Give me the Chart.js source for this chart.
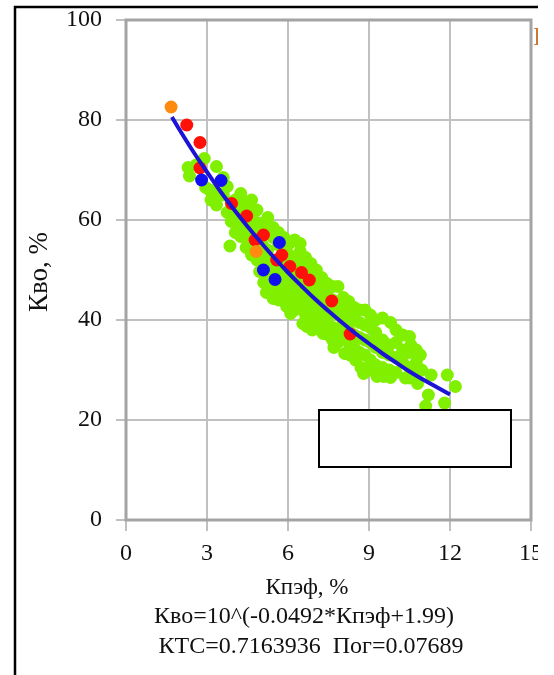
<!DOCTYPE html>
<html><head><meta charset="utf-8">
<script src="https://cdn.jsdelivr.net/npm/chart.js@4/dist/chart.umd.min.js"></script>
<style>
html,body{margin:0;padding:0;background:#fff;}
#wrap{position:absolute;left:0;top:0;width:538px;height:675px;overflow:hidden;background:#fff;}
</style>
</head><body>
<div id="wrap"><canvas id="c" width="554" height="675"></canvas></div>
<script>
const xTicks = [0, 3, 6, 9, 12, 15];
const yTicks = [0, 20, 40, 60, 80, 100];
const xTitle = "Кпэф, %";
const yTitle = "Кво, %";
const eqLine1 = "Кво=10^(-0.0492*Кпэф+1.99)";
const eqLine2 = "КТС=0.7163936  Пог=0.07689";

const greenX = [2.3,2.35,2.6,2.9,2.95,3.1,3.15,3.35,3.35,3.35,3.6,3.6,3.75,3.75,3.9,3.9,3.85,4.05,4.05,4.05,4.25,4.25,4.25,4.25,4.45,4.45,4.45,4.45,4.65,4.65,4.65,4.65,4.65,4.85,4.85,4.85,4.85,4.95,5.05,5.05,5.05,5.05,5.1,5.25,5.25,5.25,5.25,5.25,5.2,5.45,5.45,5.45,5.45,5.45,5.45,5.65,5.65,5.65,5.65,5.65,5.65,5.85,5.85,5.85,5.85,5.85,5.95,6.05,6.05,6.05,6.05,6.05,6.05,6.1,6.25,6.25,6.25,6.25,6.25,6.25,6.45,6.45,6.45,6.45,6.45,6.45,6.55,6.65,6.65,6.65,6.65,6.65,6.7,6.85,6.85,6.85,6.85,6.85,6.9,7.05,7.05,7.05,7.05,7.05,7.2,7.25,7.25,7.25,7.25,7.3,7.45,7.45,7.45,7.45,7.5,7.65,7.65,7.65,7.65,7.65,7.7,7.85,7.85,7.85,7.85,7.85,8.05,8.05,8.05,8.05,8.1,8.25,8.25,8.25,8.25,8.3,8.45,8.45,8.45,8.45,8.5,8.65,8.65,8.65,8.65,8.7,8.85,8.85,8.85,8.85,8.8,9.05,9.05,9.05,9.05,9.05,9.25,9.25,9.25,9.25,9.3,9.5,9.5,9.5,9.5,9.55,9.8,9.75,9.75,9.75,9.8,10.0,10.0,10.0,10.0,10.25,10.25,10.25,10.35,10.5,10.55,10.5,10.5,10.5,10.75,10.75,10.75,10.8,10.9,10.95,11.1,11.2,11.3,11.8,11.9,12.2];
const greenY = [70.5,68.8,71,72.3,66.5,66,64,70.7,63,65.5,68.5,65,66.7,61.5,59.7,63.5,54.8,61,57.5,64,65.3,62.5,59,56.7,63.5,60.5,58,54.5,64,61.7,59,56,53,62,59.5,57,52,49.7,59.3,57,55,52.5,47.5,60.5,58,54,51,48,45.5,58.5,56.5,52,49.5,47,44.3,57.5,55,51.5,49,46,44,56.5,54,50,47.5,45,42.7,55.3,53,51,48,45.5,43,41.3,56,52.5,49.5,47,44,42,55.3,53.7,50.5,48,45.5,42.5,39.3,52.5,49.5,46.5,44,41,38.7,51.3,48.5,45.5,43,40,38,50,47.5,44.5,42,39.5,38,48.5,46,43,40.5,37.3,47.3,45,42,39.5,37,46.7,44,41.5,38.5,36,34.5,46.7,43.5,41,38,35.5,44.5,42,39.5,36.5,33.3,43.7,41,38,35.5,33,42.5,40,37,34.5,32,42,39.5,36.5,33.5,30.5,42,39,36,33,29.3,41,38.5,35.5,32,30,40,37.5,34.5,31,28.7,40.4,36,33.5,30.5,28.7,39.5,35,33,30,28.5,38,35.5,32.5,29.5,37,34,31.5,28.4,36.7,35,33.5,30.5,28.4,34,31.5,29,27.3,33,30,22.8,25,29,23.4,29,26.7];

const redX = [2.25,2.74,2.74,3.91,4.47,5.09,4.78,5.77,5.58,6.07,6.5,6.79,7.62,8.3];
const redY = [79,75.5,70.4,63.3,60.8,57,56,53,52,50.7,49.5,48,43.8,37.2];

const blueX = [2.8,3.52,5.68,5.09,5.52];
const blueY = [68,67.9,55.5,50,48.1];

const orangeX = [1.67,4.82];
const orangeY = [82.6,53.7];

const fitX = [1.7,2,2.5,3,3.5,4,4.5,5,5.5,6,6.5,7,7.5,8,8.5,9,9.5,10,10.5,11,11.5,12];
const fitY = [80.6,77.9,73.6,69.6,65.7,62.1,58.7,55.5,52.4,49.5,46.8,44.2,41.8,39.5,37.3,35.3,33.3,31.5,29.7,28.1,26.6,25.1];

const pts = (xs, ys) => xs.map((x, i) => ({x: x, y: ys[i]}));

const SERIF = '"Liberation Serif", "Times New Roman", serif';

const decor = {
  id: 'decor',
  beforeDatasetsDraw(chart) {
    const {ctx, chartArea: a} = chart;
    ctx.save();
    ctx.strokeStyle = '#a4a4a4';
    ctx.lineWidth = 3;
    ctx.strokeRect(a.left, a.top, a.right - a.left, a.bottom - a.top);
    ctx.restore();
  },
  afterDatasetsDraw(chart) {
    const ctx = chart.ctx;
    ctx.save();
    ctx.fillStyle = '#fff';
    ctx.fillRect(319, 410, 192, 57);
    ctx.strokeStyle = '#000';
    ctx.lineWidth = 2;
    ctx.strokeRect(319, 410, 192, 57);
    ctx.restore();
  },
  afterDraw(chart) {
    const ctx = chart.ctx;
    ctx.save();
    ctx.strokeStyle = '#000';
    ctx.lineWidth = 2.5;
    ctx.beginPath();
    ctx.moveTo(15, 675);
    ctx.lineTo(15, 7);
    ctx.lineTo(540, 7);
    ctx.stroke();
    ctx.fillStyle = '#111';
    ctx.textAlign = 'center';
    ctx.textBaseline = 'middle';
    ctx.font = '23px ' + SERIF;
    ctx.fillText(xTitle, 307, 588);
    ctx.font = '24px ' + SERIF;
    ctx.fillText(eqLine1, 304, 617);
    ctx.fillText(eqLine2, 311, 647);
    ctx.font = '27px ' + SERIF;
    ctx.translate(40, 272);
    ctx.rotate(-Math.PI / 2);
    ctx.fillText(yTitle, 0, 0);
    ctx.restore();
    ctx.save();
    ctx.fillStyle = '#c87838';
    ctx.font = '25px ' + SERIF;
    ctx.textBaseline = 'alphabetic';
    ctx.textAlign = 'left';
    ctx.fillText('I', 533, 45);
    ctx.restore();
  }
};

new Chart(document.getElementById('c'), {
  type: 'scatter',
  data: {
    datasets: [
      { label: 'fit', data: pts(fitX, fitY), showLine: true, pointRadius: 0, borderColor: '#1c14d4', borderWidth: 4, tension: 0.4, fill: false },
      { label: 'orange', data: pts(orangeX, orangeY), pointRadius: 6.5, pointBackgroundColor: '#ff8a10', pointBorderWidth: 0, borderColor: '#ff8a10' },
      { label: 'blue', data: pts(blueX, blueY), pointRadius: 6.5, pointBackgroundColor: '#1010f0', pointBorderWidth: 0, borderColor: '#1010f0' },
      { label: 'red', data: pts(redX, redY), pointRadius: 6.5, pointBackgroundColor: '#ff1008', pointBorderWidth: 0, borderColor: '#ff1008' },
      { label: 'green', data: pts(greenX, greenY), pointRadius: 6.5, pointBackgroundColor: '#80f000', pointBorderWidth: 0, borderColor: '#80f000' }
    ]
  },
  options: {
    responsive: false,
    animation: false,
    devicePixelRatio: 1,
    layout: { padding: { left: 15, top: 20, right: 23, bottom: 0 } },
    plugins: { legend: { display: false }, tooltip: { enabled: false } },
    scales: {
      x: {
        type: 'linear', min: 0, max: 15,
        afterBuildTicks: s => { s.ticks = xTicks.map(v => ({value: v})); },
        afterFit: s => { s.height = 155; s.paddingLeft = 0; s.paddingRight = 0; s.paddingTop = 0; s.paddingBottom = 0; },
        ticks: { font: { family: SERIF, size: 24 }, color: '#111', padding: 8, maxRotation: 0 },
        grid: { color: '#c0c0c0', lineWidth: 2, tickLength: 11, tickColor: '#c0c0c0' },
        border: { display: false }
      },
      y: {
        type: 'linear', min: 0, max: 100,
        afterBuildTicks: s => { s.ticks = yTicks.map(v => ({value: v})); },
        afterFit: s => { s.width = 111; s.paddingTop = 0; s.paddingBottom = 0; s.paddingLeft = 0; s.paddingRight = 0; },
        ticks: { font: { family: SERIF, size: 24 }, color: '#111', padding: 14 },
        grid: { color: '#c0c0c0', lineWidth: 2, tickLength: 10, tickColor: '#c0c0c0' },
        border: { display: false }
      }
    }
  },
  plugins: [decor]
});
</script>
</body></html>
